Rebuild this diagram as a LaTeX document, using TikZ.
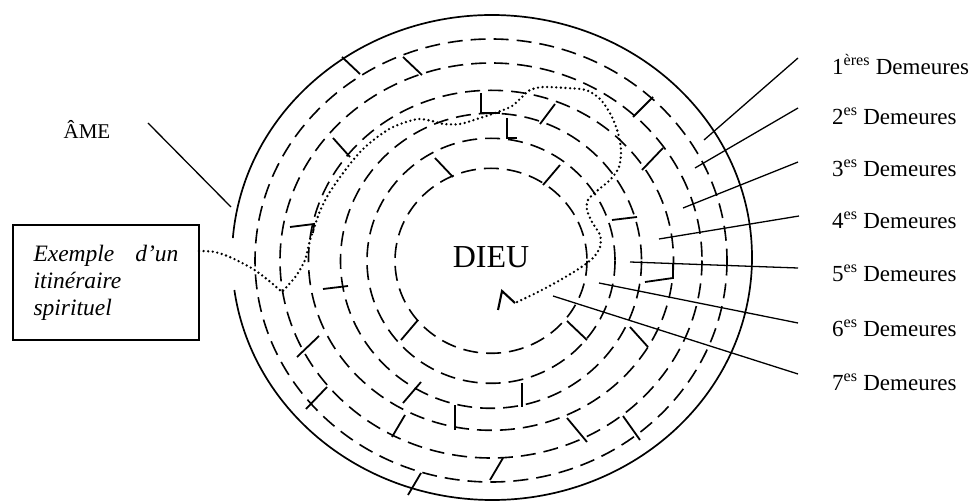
\documentclass[tikz,border=0pt]{standalone}
\usepackage{fontspec}
\setmainfont{Liberation Serif}
\begin{document}
\begin{tikzpicture}[x=1pt,y=-1pt,
  ring/.style={line width=1.6pt, dash pattern=on 15pt off 8pt},
  outer/.style={line width=1.7pt},
  wall/.style={line width=1.8pt},
  leader/.style={line width=1.3pt},
  trail/.style={line width=2.6pt, dash pattern=on 0pt off 4.6pt, line cap=round},
  lbl/.style={font=\fontsize{23}{27}\selectfont, anchor=west, inner sep=0pt}]
\useasboundingbox (0,0) rectangle (976,502);
% outer wall with entrance
\draw[outer] (492,257.5) ++(184.6:260 and 242.5) arc[start angle=184.6, end angle=532.3, x radius=260, y radius=242.5];
% dashed rings
\draw[ring] (491,260.5) ellipse[x radius=236, y radius=221.5];
\draw[ring] (491,260.5) ellipse[x radius=211, y radius=197.5];
\draw[ring] (491,260.3) ellipse[x radius=182.5, y radius=170];
\draw[ring] (491,260.8) ellipse[x radius=150.5, y radius=147.5];
\draw[ring] (491,260.8) ellipse[x radius=124, y radius=122.5];
\draw[ring] (491,260.8) ellipse[x radius=96, y radius=92.5];
% walls
\draw[wall] (342,57) -- (360,74);
\draw[wall] (403,57) -- (422,75);
\draw[wall] (481,93) -- (481,113) -- (500,113);
\draw[wall] (507,118) -- (507,138) -- (517,138);
\draw[wall] (555,104) -- (540,124);
\draw[wall] (560,165) -- (543,185);
\draw[wall] (653,97) -- (633,117);
\draw[wall] (663,148) -- (642,170);
\draw[wall] (612,220) -- (637,217);
\draw[wall] (333,138) -- (350,157);
\draw[wall] (435,158) -- (453,177);
\draw[wall] (290,227) -- (314,224) -- (313,233);
\draw[wall] (323,289) -- (348,286);
\draw[wall] (319,336) -- (297,357);
\draw[wall] (327,387) -- (306,409);
\draw[wall] (418,320) -- (401,340);
\draw[wall] (421,382) -- (403,403);
\draw[wall] (405,415) -- (392,437);
\draw[wall] (455,405) -- (455,430);
\draw[wall] (421,473) -- (408,495);
\draw[wall] (503,458) -- (490,480);
\draw[wall] (522,383) -- (522,407);
\draw[wall] (567,418) -- (587,442);
\draw[wall] (623,416) -- (640,440);
\draw[wall] (567,321) -- (587,340);
\draw[wall] (630,327) -- (648,347);
\draw[wall] (645,282) -- (673,278) -- (673,264);
% centre
\node[font=\fontsize{32}{38}\selectfont, inner sep=0pt] (dieu) at (491,257) {DIEU};
\coordinate (c1) at (498,310);
\coordinate (c2) at (502,291);
\coordinate (c3) at (515,303);
\draw[wall, line width=2.1pt] (c1) -- (c2) -- (c3);
% box
\node[draw, line width=1.5pt, minimum width=186pt, minimum height=115pt, text width=145pt, align=left,
  inner sep=0pt, font=\fontsize{23.5}{27}\selectfont\itshape] (box) at (106,282.5)
  {Exemple\hfill d’un\\itinéraire\\spirituel};
\coordinate (t0) at (199,251);
\draw[trail] (t0) -- plot[smooth] coordinates {(199,251) (215,252) (232,258) (253,269) (268,280) (282,292)}
  -- plot[smooth] coordinates {(282,292) (296,276) (305,260) (309,244) (314,228) (320,211) (328,195) (338,180) (350,164) (362,150) (376,138) (391,128) (406,122) (419,119) (432,121) (444,124) (460,124) (480,118) (498,112) (512,106) (522,97) (530,90) (543,87) (566,88) (586,90) (600,99) (611,115) (618,133) (621,150) (619,167) (610,180) (598,190) (588,200) (587,210) (592,222) (600,235) (600,247) (593,258) (580,268) (562,279) (540,291) (515,303)} -- (c3);
% ame
\node[font=\fontsize{21}{25}\selectfont, inner sep=0pt] (ame) at (87,129) {ÂME};
\coordinate (ae) at (148,123);
\coordinate (ar) at (231,207);
\draw[leader] (ae) -- (ar);
% labels
\node[lbl] (d1) at (832,65) {1\textsuperscript{ères} Demeures};
\node[lbl] (d2) at (832,116) {2\textsuperscript{es} Demeures};
\node[lbl] (d3) at (832,168) {3\textsuperscript{es} Demeures};
\node[lbl] (d4) at (832,220) {4\textsuperscript{es} Demeures};
\node[lbl] (d5) at (832,273) {5\textsuperscript{es} Demeures};
\node[lbl] (d6) at (832,328) {6\textsuperscript{es} Demeures};
\node[lbl] (d7) at (832,382) {7\textsuperscript{es} Demeures};
\coordinate (a1) at (704,140); \coordinate (b1) at (798,58);
\coordinate (a2) at (695,168); \coordinate (b2) at (798,108);
\coordinate (a3) at (683,208); \coordinate (b3) at (798,162);
\coordinate (a4) at (659,239); \coordinate (b4) at (799,216);
\coordinate (a5) at (630,262); \coordinate (b5) at (798,268);
\coordinate (a6) at (599,283); \coordinate (b6) at (798,323);
\coordinate (a7) at (553,296); \coordinate (b7) at (798,374);
\foreach \i in {1,...,7} \draw[leader] (a\i) -- (b\i);
\end{tikzpicture}
\end{document}
